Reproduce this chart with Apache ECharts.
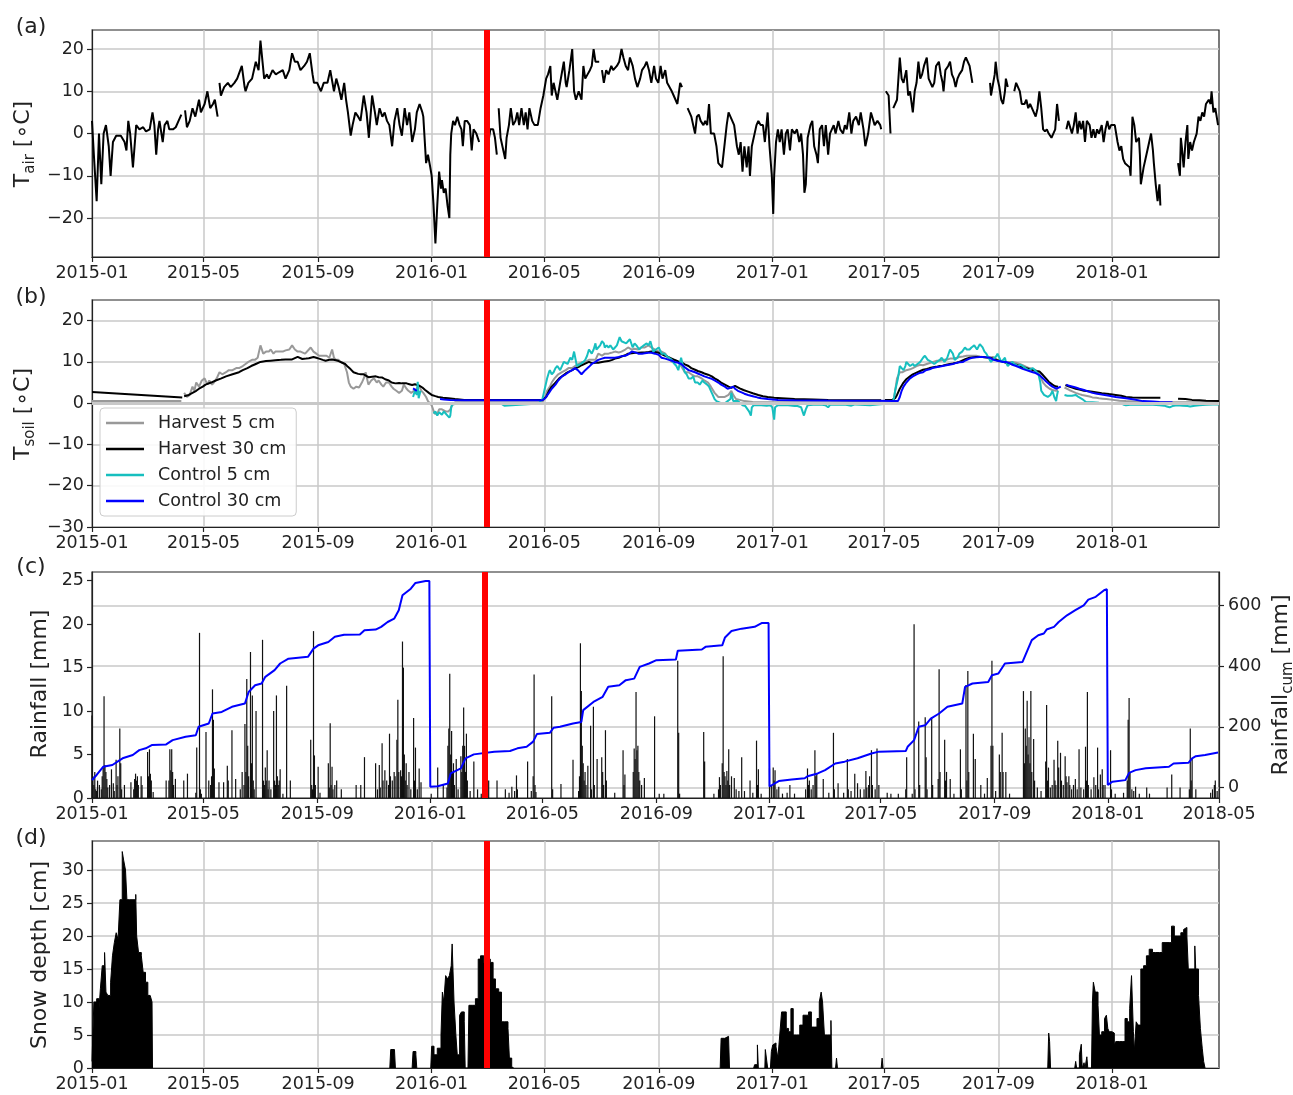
<!DOCTYPE html>
<html>
<head>
<meta charset="utf-8">
<script src="https://cdn.jsdelivr.net/npm/echarts@6/dist/echarts.min.js"></script>
<style>
  html, body { margin: 0; padding: 0; background: #fff; }
  #chart { width: 1293px; height: 1095px; }
</style>
</head>
<body>
<div id="chart"></div>
<script>
// ---- Data: [day since 2015-01-01, value]; null marks a gap in the record ----

const tickMonths = ['2015-01','2015-05','2015-09','2016-01','2016-05','2016-09','2017-01','2017-05','2017-09','2018-01','2018-05'];
const tairTicks = [-20, -10, 0, 10, 20];
const tsoilTicks = [-30, -20, -10, 0, 10, 20];
const rainTicks = [0, 5, 10, 15, 20, 25];
const cumTicks = [0, 200, 400, 600];
const snowTicks = [0, 5, 10, 15, 20, 25, 30];
const eventDay = 424;

// Air temperature [°C]
const tair = [[0,3],[2,-5],[5,-16],[7.5,0],[10,-12],[12.5,0],[15,2],[18,-3],[20,-10],[22.5,-2],[26,-0.5],[31,-0.5],[35,-2],[37,-4],[39,3],[41,0],[44,-8],[47.5,2],[51,1],[55,1.5],[58,0.5],[62,1],[65,5],[67,2],[69,-5],[71,1],[72.5,3],[76,-2],[78,2],[81,3],[83,1],[87,1],[90,1.5],[93,3],[96,4.5],[97,null],[100,5.5],[102,1.5],[105,3],[108,6],[111,4],[114,7],[115,8],[117,5],[121,7],[124,10],[127,6],[130,7],[132,8],[135,4],[136,null],[137,12],[138.5,9],[142,11],[146,12],[149,11],[153,12],[156,13],[161,16],[164,11],[165,10],[168,12],[172,13],[176,17],[179,15],[181,22],[185,13],[188,14],[190,13],[194,15],[197.5,14],[201,14.5],[205,15],[208,13],[212,15],[215,19],[218,17],[221,17],[224,15],[228,16],[231,17],[234,19],[237,14],[238.5,12],[242,12],[246,10],[249,12],[253,12],[256,15],[260,10],[262.5,13],[265,11],[268,8],[271,12],[273,8],[275,5],[278,-0.5],[280,2],[283,5],[286,4],[288.5,3],[292,9],[295,5],[297.5,-1],[301,9],[304,5],[306,2],[309,6],[312,4],[314.5,5],[317,3],[319.5,2],[322.5,-3],[325,3],[328,6],[330.5,2],[333,-0.5],[336,6],[338.5,2],[341,5],[344,-2],[347,1],[349,5],[352,7],[355,5],[356,4],[359,-7],[361,-5],[363.5,-8],[365,-10],[367,-17],[369,-26],[371,-17],[373,-9],[375,-13],[376,-11],[378,-14],[380,-13],[382,-17],[384,-20],[385,-5],[386,0],[388,3],[390,2],[392.5,4],[395,2],[397,1],[398.5,-3],[400.5,3],[403,3],[406,2],[408,-4],[410,1],[413,0],[416,-2],[417,null],[426,-2],[428,1],[431,1],[433,-1],[435,-5],[436,null],[437,6],[439,-1],[441,-3],[444,-6],[445.5,-1],[448,2],[450,6],[452.5,2],[455,3],[457,5],[459,2],[461.5,6],[464,2],[466,5],[468,1],[470,6],[473,3],[475.5,2],[479,2],[482,6],[485,9],[488,13],[490,14],[492.5,16],[494,9],[496,12],[499,9],[500,8],[503,12],[507,17],[509,12],[510,11],[513,15],[516,20],[518,10],[520,8],[523,10],[526,8],[528,16],[530,13],[532.5,14],[535,15],[537,16],[539,20],[541,17],[543,17],[545,17],[546,null],[548,15],[550,12],[552.5,15],[555,14],[558,16],[560,15],[564,16],[566.5,17],[569,20],[571,18],[573.5,16],[576,15],[578,18],[581,16],[583.5,13],[586,11],[589,13],[591,15],[594,16],[596,17],[598.5,15],[601,12],[604,16],[606,13],[608.5,12],[611,16],[613,13],[616,15],[618,12],[620,12],[623,10],[625,9],[627,8],[629,7],[632,12],[634,11],[635,null],[640,6],[642,6],[644,4],[646,2],[648,0],[650,4],[652,4.5],[654,3],[657,2],[659,3],[661,2],[663,7],[665,0],[668.5,0],[671,-3],[673,-7],[675,-7],[677,-8],[680,-2],[682,2],[684,5],[686,5],[688,3],[690,2],[693,-3],[695,-5],[697,-2],[699,-9],[701,-3],[703.5,-8],[705.5,-3],[707,-10],[709,-3],[711,-3],[714,2],[716,3],[718.5,2],[721,2],[723,-2],[726,5],[728,-3],[730.5,-10],[732,-19],[733,-10],[735,-2],[737,1],[739,-2],[741,1],[743.5,-5],[745.5,0],[747.5,1],[750,-4],[752,1],[755,0],[757.5,1],[760,-2],[762,0],[764,-5],[765.5,-14],[767,-12],[769,-1],[772,2],[774,3],[776,-3],[778.5,-5],[780,-7],[782,1],[784.5,2],[786.5,-3],[788.5,2],[791,-5],[793,0],[795,1],[797,2],[799,0],[802,3],[804,1],[807,0],[809,2],[811,1],[813.7,5],[816,0],[818,3],[821,4],[824,2],[826,5],[829,1],[831,-3],[834,0],[837,5],[841,2],[844,3],[847,2],[848,1],[849,null],[853,10],[856,9],[858,0],[859,null],[861,6],[863,6],[865,8],[868,18],[870,13],[872,12],[875,15],[877,9],[879,10],[882,5],[884,10],[886,12],[888,17],[890,13],[892,14],[894,16],[897,18],[899,13],[901,12],[903,11],[905,12],[907,16],[910,17],[912,14],[914,12],[915,10],[917,15],[920,16],[922,17],[924,14],[926,13],[928,11],[930,13],[932,14],[935,15],[937,17],[939,18],[941,18],[943,16],[946,12],[947,null],[965,12],[966,9],[968,9],[970,14],[971,17],[973,13],[975,11],[977,8],[979,7],[981,10],[982,13],[984,11],[985,null],[991,10],[993,12],[995,12],[997,10],[999,7],[1002,7],[1004,8],[1006,6],[1008,7],[1010,6],[1012,5],[1014,4],[1016,6],[1018,10],[1020,6],[1022,1],[1024,0.5],[1026,1],[1028,0],[1031,-1],[1033,-1],[1035,1],[1037,7],[1039,3],[1040,null],[1047,1],[1049,3],[1051,3],[1053,0],[1055,2],[1057,5],[1059,0],[1061,3],[1063,1],[1065,3],[1067,-2],[1069,3],[1072,2],[1074,-1],[1076,1],[1078,-1],[1080,1],[1082,0],[1085,2],[1087,-2],[1089,1],[1091,3],[1093,1],[1095,2],[1097,2],[1099,2],[1102,-2],[1104,-4],[1106,-3],[1108,-6],[1110,-7],[1112,-7],[1115,-8],[1116,-10],[1118,4],[1120,2],[1122,-2],[1125,-1],[1126,-5],[1127,-12],[1130,-8],[1132,-6],[1134,-4],[1136,-2],[1138,0],[1140,-4],[1141,-7],[1143,-12],[1145,-16],[1147,-12],[1148,-17],[1149,null],[1167,-7],[1169,-10],[1170,-1],[1171,-3],[1173,-8],[1175,-2],[1177,2],[1178,-6],[1180,-2],[1182,-4],[1184,-2],[1187,0],[1189,4],[1191,3],[1193,5],[1195,4],[1197,7],[1200,8],[1202,7],[1203,10],[1205,5],[1207,6],[1208,6],[1210,2]];

// Soil temperature, harvested plot, 5 cm [°C]
const harvest5 = [[0,0.5],[96,0.5],[97,null],[99,2.5],[102,1.5],[105,2],[108,4],[110,3],[112,5],[115,4],[118,5.5],[121,6],[124,4.5],[126,5.5],[129,4.5],[131,5],[134,6],[137,7.5],[140,7],[144,7.5],[147,8],[151,8],[155,8.5],[158,8.5],[162,9],[165,9.5],[168,10],[172,10.5],[175,10.5],[178,11],[181,14],[184,12],[187,12.5],[190,12.5],[192,13],[195,12],[197,12.5],[201,12.5],[205,12.5],[208,12.8],[212,13],[215,14],[218,13],[221,12.5],[224,12.5],[226,12.3],[229,12],[231,12],[235,13.5],[238,12.5],[241,12],[244,11.5],[247,11.5],[249,11.2],[252,11.5],[255,11],[258,13],[260,11],[262,10.5],[265,10.5],[267,10],[271,9.5],[274,7.5],[276,5],[278,4],[281,3.5],[284,4],[287,3.8],[290,5],[292,6],[294,7.5],[297,4.5],[300,5.5],[303,6],[306,5],[308,5.5],[311,4.5],[313,4],[316,5],[319,5],[322,4],[324,3.5],[327,3],[330,2.5],[333,3],[335,4.5],[338,3.5],[340,3],[343,2.5],[346,3],[349,3.5],[351,4.5],[354,3],[356,2.5],[359,1.5],[361,0.5],[365,-0.5],[368,-2.5],[371,-2.6],[373,-1.5],[376,-1.5],[380,-2],[383,-2],[385,-1.5],[387,-0.5],[390,0.2],[484,0.3],[487,1.5],[489,3],[492,4],[494,5],[497,6],[501,7],[505,7.5],[509,8],[512,8.5],[516,8.5],[519,9],[523,9.5],[527,10],[530,10],[534,10.5],[537,10.5],[541,10.5],[544,12],[548,11.5],[551,12],[555,12],[558,12.2],[562,12.5],[566,12.3],[569,12.5],[573,13],[576,13.5],[580,13],[583,13.2],[587,13],[590,13.5],[594,13.5],[598,14],[601,13.5],[605,13],[609,12.5],[612,12.5],[616,12],[619,11],[623,10],[626,10.5],[630,10],[633,9],[637,7.5],[641,7.5],[644,7],[648,6.5],[651,6.5],[655,6],[658,5.5],[662,5],[665,4],[669,2.5],[673,1.5],[676,1.5],[680,1.5],[684,2],[687,3],[689,2],[692,1],[696,0.8],[701,0.5],[710,0.3],[719,0.2],[861,0.2],[863,3],[865,6],[868,7.5],[871,7.5],[875,8],[879,8.2],[882,8.5],[886,9],[890,9.3],[893,9.2],[897,9.5],[901,9.8],[904,10],[908,10.3],[911,10.3],[915,10.5],[918,10.5],[922,10.8],[925,10.8],[929,11],[932,11.2],[936,11.3],[940,11.5],[943,11.5],[947,11.5],[950,11.5],[954,11.3],[957,11.2],[961,11],[964,11],[968,11.2],[971,10.8],[975,10],[978,10.2],[982,10],[986,10],[989,10],[993,9.8],[997,9.5],[1000,9.2],[1004,8.8],[1007,8.5],[1011,8.3],[1014,8],[1018,7],[1022,5],[1025,4.2],[1029,3.5],[1032,3.2],[1036,3],[1038,3.2],[1039,null],[1045,3.8],[1047,3.5],[1050,3.2],[1054,2.8],[1057,2.5],[1061,2.2],[1064,2],[1068,1.8],[1072,1.6],[1075,1.4],[1079,1.3],[1082,1.2],[1086,1.1],[1090,1],[1097,0.8],[1104,0.6],[1111,0.5],[1120,0.4],[1129,0.3],[1150,0.2],[1211,0.2]];

// Soil temperature, harvested plot, 30 cm [°C]
const harvest30 = [[0,2.7],[97,1.4],[98,null],[99,1.7],[104,2],[108,2.5],[112,3],[115,3.5],[119,4],[122,4.5],[128,5],[133,5.5],[139,6],[144,6.5],[151,7],[158,7.5],[162,8],[167,8.5],[171,9],[176,9.5],[181,10],[187,10.2],[192,10.3],[197,10.4],[203,10.5],[208,10.6],[215,10.6],[221,11.2],[226,10.7],[230,10.8],[233,10.9],[238,11.2],[241,11],[244,10.8],[248,10.5],[251,10.3],[255,10.5],[258,10.6],[262,10.4],[265,10.2],[269,9.8],[272,9.5],[275,8.8],[278,8.2],[281,7.5],[283,7.3],[286,7.1],[289,7],[292,7],[294,6.9],[297,6.3],[301,6.4],[305,6.5],[308,6.3],[312,6.2],[315,5.8],[319,5.5],[322,5],[326,4.8],[330,4.9],[333,4.8],[338,4.8],[341,4.6],[344,4.4],[347,4.6],[349,4.5],[352,4.2],[355,3.8],[358,3.2],[360,2.8],[362,2.5],[365,2],[369,1.7],[372,1.5],[377,1.3],[383,1.2],[390,1],[400,0.8],[484,0.8],[488,1.5],[491,3],[494,4],[498,5],[502,6],[505,6.5],[509,7.2],[512,7.6],[516,8],[519,8.4],[523,8.8],[526,9.2],[530,9.6],[534,10],[537,9.7],[541,9.8],[544,9.8],[548,10],[551,10.1],[555,10.2],[559,10.5],[562,10.8],[566,11],[569,11.3],[573,11.6],[576,12],[580,12.1],[584,12.2],[587,12.2],[591,12.3],[594,12.3],[598,12.4],[601,12.5],[605,12.4],[609,12.2],[612,11.9],[616,11.5],[619,11.2],[623,10.8],[626,10.5],[630,10.1],[634,9.8],[637,9.4],[641,9],[644,8.5],[648,8.1],[651,7.8],[655,7.5],[658,7.2],[662,6.9],[666,6.5],[669,6],[673,5.5],[676,5],[680,4.5],[684,4],[687,3.7],[689,4],[691,4.2],[693,3.9],[696,3.6],[700,3.2],[705,2.8],[710,2.4],[716,2],[721,1.7],[726,1.5],[733,1.3],[741,1.2],[755,1],[775,0.9],[791,0.8],[820,0.7],[848,0.7],[849,null],[852,0.8],[860,0.8],[863,1.2],[865,2],[868,3.5],[872,5],[875,5.8],[879,6.5],[882,7],[886,7.4],[890,7.8],[893,8.1],[897,8.3],[900,8.5],[904,8.7],[907,8.8],[911,9],[914,9.1],[918,9.3],[922,9.5],[925,9.6],[929,9.8],[932,10],[936,10.4],[939,10.7],[943,11],[946,11.1],[950,11.2],[954,11.2],[957,11.2],[961,11.1],[965,11],[968,10.8],[972,10.5],[975,10.3],[979,10],[982,9.8],[986,9.6],[989,9.5],[993,9.3],[997,9],[1000,8.7],[1004,8.5],[1007,8.3],[1011,8],[1015,7.8],[1018,7.7],[1021,7],[1025,6],[1028,5.2],[1032,4.5],[1035,4.1],[1038,4],[1039,null],[1046,4.4],[1050,4],[1054,3.7],[1057,3.5],[1061,3.3],[1066,3],[1071,2.9],[1075,2.8],[1080,2.6],[1085,2.4],[1090,2.3],[1093,2.2],[1100,2],[1106,1.8],[1111,1.5],[1118,1.4],[1129,1.3],[1140,1.3],[1148,1.3],[1149,null],[1167,1.1],[1175,1],[1182,0.8],[1190,0.7],[1197,0.6],[1211,0.5]];

// Soil temperature, control plot, 5 cm [°C]
const control5 = [[345,1.5],[347,3],[349,2],[350,5.2],[351,1.2],[353,3],[354,null],[367,-2.5],[369,-2],[371,-3],[373,-2.2],[376,-2.8],[378,-2],[380,-2.5],[382,-3],[384,-3.5],[385,-3],[386,-1],[387,-0.3],[390,-0.2],[440,-0.2],[443,-0.6],[445,-0.2],[480,-0.1],[482,0.5],[484,1],[485,2],[487,4],[489,6],[491,7.5],[492,8],[494,7],[496,7.5],[498,8.5],[500,9],[503,8],[505,9],[507,10],[509,10],[511,9.5],[514,11],[516,10.5],[518,12.5],[521,9],[523,9],[525,9.5],[528,10],[530,10.5],[532,11.5],[534,13],[537,12],[539,13],[541,14.5],[542,13],[544,13.5],[546,14],[548,15],[550,14.5],[551,13.5],[553,14],[555,13.5],[557,14],[560,13],[562,13.5],[564,14],[567,16],[569,15],[571,15],[574,14.5],[576,15],[578,15.5],[581,13.5],[583,14.5],[585,14],[588,13],[590,13.5],[593,14],[596,14.5],[598,14],[600,15],[603,12.5],[606,13],[609,13.5],[612,12],[615,12],[617,11.5],[620,11],[623,10.5],[624,10],[626,9.5],[628,9],[630,8],[633,11],[635,9],[637,7.5],[639,7],[641,6],[644,6],[646,6.5],[648,5],[651,5],[653,4.5],[656,5.5],[658,5],[661,4.5],[663,4],[665,3],[667,2],[669,1],[671,0.5],[676,0],[680,0],[683,0.5],[686,1],[687,2.5],[689,0.5],[694,0.5],[697,0],[699,-0.5],[702,-0.7],[704,-1],[706,-2],[708,-3],[709,-1],[711,-0.5],[719,-0.5],[725,-0.6],[729,-0.5],[731,-1],[733,-4],[734,-1],[737,-0.5],[748,-0.5],[755,-0.7],[758,-0.7],[762,-1],[765,-3],[767,-1.5],[769,-0.5],[775,-0.4],[783,-0.3],[788,-0.5],[791,-1],[793,-0.4],[798,-0.3],[810,-0.4],[816,-0.6],[820,-0.3],[836,-0.5],[844,-0.3],[860,0],[862,1.5],[863,3],[865,5],[866,6],[868,9],[870,8.5],[872,8],[874,9],[875,10],[877,9.5],[879,9],[882,9.5],[884,9],[887,9.5],[890,10],[893,11],[895,11.5],[898,10.5],[900,10.5],[902,10],[905,9.5],[908,10],[911,10.5],[913,11],[916,10],[919,11],[922,13],[925,12],[927,10.5],[930,11],[932,12],[935,12.5],[938,13.5],[940,13],[943,13],[945,13.5],[948,14],[951,13],[954,14.3],[957,13.5],[959,12.5],[961,12],[963,12],[966,10],[968,10.5],[970,11],[972,11.5],[973,12],[975,11],[977,10],[979,10.5],[981,11],[982,10],[984,9],[986,9.5],[989,10],[991,9.5],[993,9.2],[995,9],[998,9.3],[1000,9],[1003,8.5],[1006,8],[1008,8.2],[1011,8.5],[1014,7.8],[1017,7],[1019,5],[1020,3],[1023,2],[1025,2.2],[1027,1.5],[1030,2],[1032,3],[1034,1.5],[1036,0.5],[1037,2],[1038,3],[1039,null],[1045,2],[1048,1.8],[1050,1.5],[1053,1.8],[1057,2],[1060,1.5],[1064,1],[1068,0.3],[1075,0.2],[1082,0.1],[1095,0],[1104,0],[1108,-0.3],[1111,-0.5],[1118,-0.3],[1125,-0.4],[1129,-0.3],[1140,-0.4],[1147,-0.5],[1152,-0.6],[1155,-0.8],[1158,-1],[1161,-0.7],[1166,-0.5],[1172,-0.6],[1177,-0.7],[1180,-0.8],[1182,-1],[1185,-0.6],[1190,-0.5],[1197,-0.4],[1204,-0.3],[1211,-0.3]];

// Soil temperature, control plot, 30 cm [°C]
const control30 = [[345,3.6],[347,3.8],[349,3],[350,null],[374,1],[378,0.9],[385,0.8],[400,0.7],[484,0.7],[487,1.2],[491,2.5],[494,3.5],[498,4.5],[501,5.5],[505,6.5],[509,7],[512,7.5],[516,8],[519,8.5],[522,8],[526,7],[528,7.2],[530,8],[534,8.8],[537,9.5],[541,10],[544,10.5],[548,10.8],[551,11],[555,11],[558,11],[562,11],[566,11.2],[569,11.4],[573,11.5],[576,11.8],[580,12.5],[584,12.3],[587,12],[591,12],[594,12.1],[598,12.2],[601,12.2],[605,12],[609,11.7],[612,11],[616,10.8],[620,10.5],[623,10.3],[626,10],[630,9.8],[633,9.5],[637,8.7],[641,8],[644,7.8],[648,7.5],[651,7.2],[655,6.8],[658,6.5],[662,6.2],[665,6],[669,5.5],[673,5],[676,4.5],[680,4],[683,3.5],[686,3.7],[689,4],[691,3.5],[694,3],[698,2.6],[701,2.3],[705,2],[710,1.7],[715,1.4],[719,1.2],[726,1],[737,0.8],[755,0.7],[790,0.65],[844,0.6],[861,0.5],[866,0.5],[868,1.5],[870,3],[872,4],[875,5],[879,6],[882,6.5],[886,7],[889,7.3],[893,7.5],[896,8],[900,8.2],[903,8.5],[907,8.7],[910,8.8],[914,9],[918,9.2],[921,9.3],[925,9.5],[928,9.7],[932,9.9],[936,10],[939,10.4],[943,10.8],[946,11],[950,11.1],[954,11.2],[957,11.2],[961,11.1],[965,11],[968,10.6],[972,10.3],[975,10.2],[979,10],[982,10],[986,9.7],[989,9.3],[993,9],[997,8.6],[1000,8.3],[1004,8],[1007,7.8],[1011,7.5],[1014,7.3],[1018,6.8],[1022,6],[1025,5.3],[1029,4.5],[1032,4],[1036,3.5],[1038,3.8],[1041,4],[1043,null],[1047,4.5],[1050,4.2],[1054,4],[1057,3.8],[1061,3.5],[1066,3.2],[1071,2.8],[1075,2.5],[1080,2.3],[1085,2.1],[1093,1.8],[1100,1.5],[1111,1.2],[1120,0.9],[1129,0.5],[1140,0.4],[1147,0.3],[1161,0.2]];

// Daily rainfall [mm]
const rainfall = [[0,9.5],[1,2.5],[2,1.5],[3,3],[4,1],[5,0.8],[6,2],[8,1.5],[10,1],[11,2.5],[12,3.5],[13,11.7],[14,3.8],[15,3],[16,2.2],[17,1.2],[19,1.5],[21,3.3],[23,1.7],[24,0.8],[26,4.4],[27,1.5],[28,2.5],[30,8],[31,4],[32,1],[35,1.5],[42,1.8],[45,1],[46,2.2],[47,2.8],[48,2],[49,2.5],[50,1.5],[53,2.5],[54,1.5],[60,5.3],[61,2.5],[62,5.6],[63,2.8],[64,2],[66,0.7],[80,2],[83,2],[84,5.6],[85,3.2],[86,5.6],[87,3],[88,1.5],[90,2.2],[99,2],[103,2.8],[112,0.6],[113,5.8],[116,19],[117,1],[118,0.5],[123,7.6],[126,2],[128,1.5],[129,2.5],[130,12.5],[131,9],[132,3.4],[137,1.8],[142,1.8],[146,3.7],[147,2],[151,7.8],[155,2.2],[160,1],[162,3],[164,1.5],[165,8.5],[166,3],[167,13.7],[168,6],[169,2.5],[171,16.8],[172,4],[173,11.8],[174,2],[175,1],[177,10],[184,18.2],[185,2],[186,1.5],[187,3.5],[188,2],[189,5.5],[190,1],[191,2],[193,1],[196,10],[197,2],[198,1.5],[199,11.8],[200,2.5],[201,1.5],[202,2],[203,3.3],[206,0.5],[210,12.9],[214,2],[236,6.7],[237,1.5],[238,1],[239,19.2],[240,4.9],[241,1.5],[244,3.6],[246,0.6],[255,4],[256,1.2],[257,8.6],[258,1.5],[259,3.6],[260,1],[262,1.5],[264,2],[269,1],[285,1.5],[290,1.5],[294,4.7],[306,4],[308,1],[310,3.8],[311,1.2],[313,6.3],[314,2],[316,3.2],[318,2],[320,1.5],[321,7.4],[322,2.5],[324,2],[326,3],[327,2.5],[329,6.7],[330,11.3],[331,3],[333,3.2],[334,2.5],[335,18],[336,15],[337,5],[338,2],[339,4],[340,1.5],[342,3],[344,1],[347,9.2],[348,2],[349,5.8],[351,1],[353,3.4],[355,1.8],
  [366,0.5],[373,3.5],[379,1.5],[383,1.2],[384,6],[385,8],[386,14.3],[387,5],[388,7.7],[389,3],[390,4],[391,1.5],[393,4.5],[395,1],[398,4.8],[399,3],[400,6],[401,10.4],[402,6],[403,3],[404,7.4],[405,2],[408,0.8],[412,4.2],[416,1],[420,0.5],[428,2],[437,2],[446,1],[450,0.6],[453,1.3],[456,0.8],[458,2.6],[459,1],[470,4.2],[474,0.8],[476,2.5],[477,14.2],[478,1.5],[479,0.7],[496,11.7],[497,1],[506,1.6],[519,4.4],[525,0.8],[526,2.5],[527,17.8],[528,12.3],[529,6],[530,4],[531,2],[532,3],[533,1.5],[535,3.7],[538,8.3],[539,1],[541,10.5],[542,1.5],[545,4.5],[550,4.7],[551,3],[552,1.5],[554,7.8],[555,2],[564,0.6],[573,5.5],[574,1.5],[575,2.7],[584,3],[585,5.7],[586,4.5],[587,12.2],[588,5.5],[589,6],[590,3],[591,2],[593,1.5],[596,2.3],[607,9.4],[612,0.5],[617,0.5],[632,15.8],[633,7.5],[634,0.5],[660,7.6],[661,4.2],[671,0.5],[676,1],[677,2.4],[678,1.5],[680,4],[681,16.3],[682,3],[683,2.5],[684,1.5],[685,3.1],[686,2],[687,5.6],[688,1.5],[690,2.5],[693,2.3],[695,1],[698,0.8],[701,4.7],[704,0.8],[710,2],[713,0.6],[717,6.6],[718,1.5],[719,3.3],[722,0.5],
  [731,3.4],[733,1.5],[735,3.5],[736,2],[737,3.2],[739,1],[741,1.3],[745,0.5],[750,0.6],[753,1.5],[758,0.5],[770,1],[772,3.4],[773,1.5],[774,2],[776,1],[778,1.5],[780,5.5],[781,2.5],[782,2.8],[789,2.2],[795,0.6],[800,7.5],[801,1],[805,1.7],[811,0.6],[815,4.5],[816,1],[819,0.8],[823,2.8],[826,1.7],[829,1],[833,1],[835,3.1],[836,1.2],[838,1.5],[839,2.5],[841,5.5],[842,1.5],[845,1],[847,5.7],[849,1.5],[858,0.6],[862,0.5],[870,0.5],[878,1],[879,4.7],[885,0.5],[887,20],[888,1],[892,8.8],[893,1.5],[899,9.3],[900,4.7],[901,1],[906,9.3],[907,1.5],[913,2.2],[914,14.8],[915,3],[920,6.7],[921,2],[922,3],[926,2.2],[930,0.5],[937,5.6],[938,1],[943,13],[944,2],[945,14.6],[946,3],[951,7.4],[953,4.5],[959,1.5],[963,0.5],[966,2.3],[970,6],[971,15.8],[972,6],[975,0.8],[979,5],[980,3],[982,7.5],[983,3],[986,3],[990,0.5],[1005,12.3],[1006,4],[1007,8],[1008,6],[1009,11.2],[1010,5],[1011,7],[1012,4],[1013,12.3],[1014,3],[1016,6.8],[1017,2],[1020,1.2],[1024,0.8],[1029,4.2],[1030,10.7],[1031,2],[1032,3.5],[1034,1.2],[1036,1.5],[1038,4.4],[1039,2],[1040,1.5],[1042,6.6],[1043,3.5],[1045,5.2],[1046,2],[1048,1.5],[1050,4.8],[1051,2.5],[1052,1.8],[1054,2.5],[1055,1.5],[1057,1],[1059,1.5],[1061,2.2],[1063,1],[1065,5.6],[1067,1.2],[1070,1],[1072,5.9],[1073,2],[1074,12.2],[1075,1.5],[1078,1],[1081,2.4],[1083,1.5],[1085,5.8],[1086,1],[1088,2.7],[1090,3.3],[1091,1.5],[1093,1.5],
  [1099,5.5],[1100,1],[1104,0.5],[1113,0.6],[1117,2],[1118,9],[1119,11.5],[1120,3],[1122,1],[1124,0.8],[1126,1.3],[1130,0.5],[1138,1.2],[1141,0.5],[1160,1.2],[1165,2.7],[1174,1.2],[1184,1],[1185,8],[1186,2],[1187,4.5],[1191,1],[1207,0.6],[1209,1],[1211,1.5],[1212,2],[1214,0.8]];

// Cumulative rainfall since 1 January of each year [mm]
const rainfallCum = [[0,24],[5,41],[12,68],[22,74],[30,90],[33,96],[44,107],[51,123],[58,129],[65,140],[80,142],[87,156],[101,167],[112,172],[115,200],[126,211],[130,244],[140,249],[151,266],[165,277],[169,315],[176,337],[183,343],[187,365],[197,387],[203,409],[212,425],[233,431],[239,458],[244,469],[255,480],[262,497],[272,504],[289,505],[294,519],[306,521],[312,530],[319,546],[326,557],[331,585],[335,634],[344,656],[349,675],[360,681],[364,681],[365,2],[373,4],[384,13],[387,46],[398,63],[403,96],[412,109],[434,118],[451,120],[459,129],[469,134],[476,151],[480,176],[494,180],[498,197],[505,200],[519,211],[528,216],[530,255],[541,282],[551,299],[557,332],[569,337],[576,354],[585,359],[591,398],[601,409],[609,420],[630,422],[632,451],[658,455],[662,464],[680,469],[683,495],[690,516],[701,524],[715,530],[723,543],[730,543],[731,3],[741,21],[755,26],[769,30],[772,37],[783,46],[791,57],[802,79],[812,85],[826,96],[841,112],[849,118],[878,120],[880,134],[887,156],[892,200],[899,205],[905,227],[914,244],[923,266],[939,277],[942,332],[950,343],[967,348],[971,370],[978,376],[985,409],[1004,414],[1007,436],[1014,486],[1021,502],[1027,508],[1030,521],[1038,530],[1043,546],[1052,568],[1061,585],[1070,601],[1075,620],[1083,629],[1092,651],[1095,654],[1096,8],[1101,19],[1115,24],[1119,48],[1126,57],[1137,63],[1162,68],[1167,79],[1183,81],[1187,96],[1191,103],[1201,107],[1215,115]];

// Snow depth [cm]; null separates snow-free periods
const snowDepth = [[0,1],[2,10],[5,10.5],[7.5,9],[9,12],[11,15.5],[13.5,17.5],[15,11.5],[17,11],[20,13],[22,17],[24,19],[26,20.5],[28,19.5],[30,25.5],[32.5,32.8],[34,31.5],[36,30],[37.5,25.5],[40,25.5],[43,25.5],[47,26.3],[48,20],[50,17.5],[53,17],[55,14.5],[57.5,13],[60,11],[62.5,11.2],[64.5,10],[65,0],[65.5,null],
  [320,0],[321,2.8],[325,2.5],[326,0],[326.5,null],[344,0],[345,2.5],[348,2],[349,0],[349.5,null],
  [364,0],[365,3.3],[367.5,2],[371,3],[375,5],[376.5,11.5],[378,10],[380,14],[382,13.5],[384,14],[386,15.5],[387,18.8],[389,10],[391,5],[392.5,2],[395,8],[397,8.5],[400,7],[401,0],[404,0],[405,9.5],[408.5,9.5],[412,10.5],[415,16.5],[417.5,17],[421,16],[424.5,16.5],[428,16],[431,13.5],[433.5,12],[437,11.5],[440,7],[443.5,7],[447,6],[448.5,1.5],[451,0.2],[453,0],[453.5,null],
  [675,0],[676,4.5],[680,4.8],[684,5],[685,0],[685.5,null],[711,0],[712,0.5],[715,3.5],[716,0],[716.5,null],[723,0],[723.5,2.8],[725.5,2.5],[726,0],[726.5,null],
  [729,0],[730,2.5],[731.5,3.5],[733,3.8],[735,3.2],[737,1.5],[739,5],[741,8.5],[743.5,8.5],[746,6],[748.5,5.5],[751,9],[753.5,5],[757,5],[760.5,6.5],[764,8],[767.5,8],[770,8.5],[773,6.2],[776.5,6.2],[779,7.5],[781.5,10],[783.5,11.5],[785,10],[787,5],[790.5,5],[792.5,5],[794,7.2],[795,0],[795.5,null],
  [799,0],[800,1.5],[801,0],[801.5,null],[848,0],[849,1.5],[850,0],[850.5,null],[1027,0],[1028,5.3],[1029,4],[1030,0],[1030.5,null],
  [1056,0],[1057,1],[1058,0],[1060,0],[1061,2],[1063,3.6],[1064,0],[1066,0.8],[1067,0],[1068,0],[1069,1.7],[1070,0],
  [1074,0],[1075,10],[1076,13],[1078,11.5],[1081,9.5],[1082.5,5],[1085,5.5],[1088,7.5],[1090,8],[1091.5,6],[1093,5.5],[1096,5.3],[1098.5,3.5],[1100,4],[1104,4],[1107,4],[1110,7.5],[1112.5,7],[1115,9],[1117,14],[1119,5.5],[1120,2.5],[1122,7],[1124,6.5],[1127,15],[1130,15.5],[1133,17],[1136,18],[1139.5,17.5],[1143,17.5],[1147,17.5],[1150,19],[1154,19],[1157.5,19],[1160,21.5],[1163,20],[1166,20],[1170,20.5],[1173,21],[1175,21.3],[1176.5,20],[1178,15],[1182,15],[1185,18.5],[1186,15],[1189,11],[1191,6],[1193,3],[1194.5,1],[1196,0]];

// ---- Helpers ----
const FONT = '"DejaVu Sans", "Liberation Sans", sans-serif';
const INK = '#222';
const GRIDLINE = '#c8c8c8';
const DAY_MS = 86400000;
const T0 = Date.UTC(2015, 0, 1);
// x runs in days since 2015-01-01
const toSeries = pts => pts.map(p => [p[0], p[1] === null ? '-' : p[1]]);
const monthToDay = s => Math.round((Date.UTC(+s.slice(0, 4), +s.slice(5, 7) - 1, 1) - T0) / DAY_MS);
const monthTickDays = tickMonths.map(monthToDay);

function fmtMonth(v) {
  const d = new Date(T0 + Math.round(v) * DAY_MS);
  return d.getUTCFullYear() + '-' + String(d.getUTCMonth() + 1).padStart(2, '0');
}
function fmtNum(v) {
  return v < 0 ? '\u2212' + Math.abs(v) : String(v);
}

const LEFT = 92, RIGHT = 74;
const panels = [
  { top: 30, height: 227 },   // (a)
  { top: 300, height: 227 },  // (b)
  { top: 572, height: 226 },  // (c)
  { top: 841, height: 227 }   // (d)
];

function xAxisFor(i, maxDay, grid) {
  return {
    type: 'value', gridIndex: i, min: 0, max: maxDay,
    axisLine: { show: true, onZero: false, lineStyle: { color: INK, width: 1.2 } },
    axisTick: { show: true, inside: false, length: 5, customValues: monthTickDays, lineStyle: { color: INK, width: 1.2 } },
    axisLabel: { show: true, customValues: monthTickDays, formatter: fmtMonth, fontSize: 17.5, fontFamily: FONT, color: INK, margin: 7, hideOverlap: false },
    splitLine: { show: grid, lineStyle: { color: GRIDLINE, width: 1.5 } },
    minorTick: { show: false }
  };
}

function yAxisFor(i, min, max, ticks, grid, position, margin) {
  return {
    type: 'value', gridIndex: i, min: min, max: max,
    position: position || 'left',
    axisLine: { show: true, onZero: false, lineStyle: { color: INK, width: 1.2 } },
    axisTick: { show: true, inside: false, length: 5, customValues: ticks, lineStyle: { color: INK, width: 1.2 } },
    axisLabel: { show: true, customValues: ticks, formatter: fmtNum, fontSize: 17.5, fontFamily: FONT, color: INK, margin: margin || 8 },
    splitLine: { show: grid, lineStyle: { color: GRIDLINE, width: 1.5 } }
  };
}

const eventMark = {
  symbol: ['none', 'none'], silent: true, animation: false,
  label: { show: false },
  emphasis: { disabled: true },
  lineStyle: { color: '#ff0000', width: 6, type: 'solid', opacity: 1 },
  data: [{ xAxis: eventDay }]
};

function soilLine(name, color, pts, extra) {
  return Object.assign({
    name: name, type: 'line', xAxisIndex: 1, yAxisIndex: 1,
    data: toSeries(pts), showSymbol: false, symbol: 'none',
    color: color, itemStyle: { color: color },
    lineStyle: { color: color, width: 2 }, connectNulls: false
  }, extra || {});
}

const mainTok = { fontSize: 22, fontFamily: FONT, fill: INK, color: INK, lineHeight: 30, verticalAlign: 'middle' };
const subTok = { fontSize: 15, fontFamily: FONT, fill: INK, color: INK, lineHeight: 15, verticalAlign: 'bottom' };
const richLabel = { m: mainTok, s: subTok };

function sideLabel(x, y, text) {
  return {
    type: 'text', x: x, y: y, rotation: Math.PI / 2,
    style: {
      text: text, rich: richLabel,
      align: 'center', verticalAlign: 'middle',
      textAlign: 'center', textVerticalAlign: 'middle',
      fill: INK, fontFamily: FONT, fontSize: 22
    }
  };
}

function panelTag(y, text) {
  return {
    type: 'text', x: 31, y: y,
    style: { text: text, fontSize: 22, fontFamily: FONT, fill: INK, align: 'center', verticalAlign: 'middle', textAlign: 'center', textVerticalAlign: 'middle' }
  };
}

const option = {
  animation: false,
  backgroundColor: '#ffffff',
  grid: panels.map(p => ({
    left: LEFT, right: RIGHT, top: p.top, height: p.height,
    show: true, borderColor: INK, borderWidth: 1.2, backgroundColor: 'transparent'
  })),
  xAxis: [
    xAxisFor(0, 1211, true),
    xAxisFor(1, 1211, true),
    xAxisFor(2, 1216, false),
    xAxisFor(3, 1211, true)
  ],
  yAxis: [
    yAxisFor(0, -29.2, 24.5, tairTicks, true),
    yAxisFor(1, -30, 25, tsoilTicks, true),
    yAxisFor(2, 0, 26, rainTicks, false),
    yAxisFor(2, -35, 711, cumTicks, true, 'right', 9),
    yAxisFor(3, 0, 34.4, snowTicks, true)
  ],
  legend: {
    show: true, orient: 'vertical', left: 100, top: 408,
    data: ['Harvest 5 cm', 'Harvest 30 cm', 'Control 5 cm', 'Control 30 cm'],
    icon: 'rect', itemWidth: 38, itemHeight: 2.5, itemGap: 6,
    selectedMode: false,
    textStyle: { fontSize: 17.5, fontFamily: FONT, color: INK, lineHeight: 20, padding: [0, 0, 0, 9] },
    backgroundColor: 'rgba(255,255,255,0.88)', borderColor: '#cccccc', borderWidth: 1, borderRadius: 4,
    padding: [5, 10, 5, 6]
  },
  graphic: [
    panelTag(27, '(a)'), panelTag(297, '(b)'), panelTag(567, '(c)'), panelTag(838, '(d)'),
    sideLabel(23, 144, '{m|T}{s|air}{m| [\u2218C]}'),
    sideLabel(23, 414, '{m|T}{s|soil}{m| [\u2218C]}'),
    sideLabel(40, 684, '{m|Rainfall [mm]}'),
    sideLabel(1281, 685, '{m|Rainfall}{s|cum}{m| [mm]}'),
    sideLabel(40, 955, '{m|Snow depth [cm]}')
  ],
  series: [
    {
      name: 'Tair', type: 'line', xAxisIndex: 0, yAxisIndex: 0,
      data: toSeries(tair), showSymbol: false, symbol: 'none', connectNulls: false,
      lineStyle: { color: '#000', width: 2 }, itemStyle: { color: '#000' },
      markLine: eventMark
    },
    soilLine('Harvest 5 cm', '#999999', harvest5),
    soilLine('Harvest 30 cm', '#000000', harvest30),
    soilLine('Control 5 cm', '#17bfbf', control5),
    soilLine('Control 30 cm', '#0000ff', control30, {
      markLine: {
        symbol: ['none', 'none'], silent: true, animation: false,
        label: { show: false }, emphasis: { disabled: true },
        data: [
          { yAxis: 0, lineStyle: { color: '#c8c8c8', width: 3, type: 'solid' } },
          { xAxis: eventDay, lineStyle: { color: '#ff0000', width: 6, type: 'solid' } }
        ]
      }
    }),
    {
      name: 'Rainfall', type: 'bar', xAxisIndex: 2, yAxisIndex: 2,
      data: toSeries(rainfall), barWidth: 1.2,
      itemStyle: { color: '#111' }, emphasis: { disabled: true }
    },
    {
      name: 'Rainfall cum', type: 'line', xAxisIndex: 2, yAxisIndex: 3,
      data: toSeries(rainfallCum), showSymbol: false, symbol: 'none',
      lineStyle: { color: '#0000ff', width: 2 }, itemStyle: { color: '#0000ff' },
      markLine: eventMark
    },
    {
      name: 'Snow depth', type: 'line', xAxisIndex: 3, yAxisIndex: 4,
      data: toSeries(snowDepth), showSymbol: false, symbol: 'none', step: 'end', connectNulls: false,
      lineStyle: { color: '#000', width: 1 }, itemStyle: { color: '#000' },
      areaStyle: { color: '#000', opacity: 1 },
      markLine: eventMark
    }
  ]
};

const chart = echarts.init(document.getElementById('chart'), null, { renderer: 'canvas' });
chart.setOption(option);
</script>
</body>
</html>
